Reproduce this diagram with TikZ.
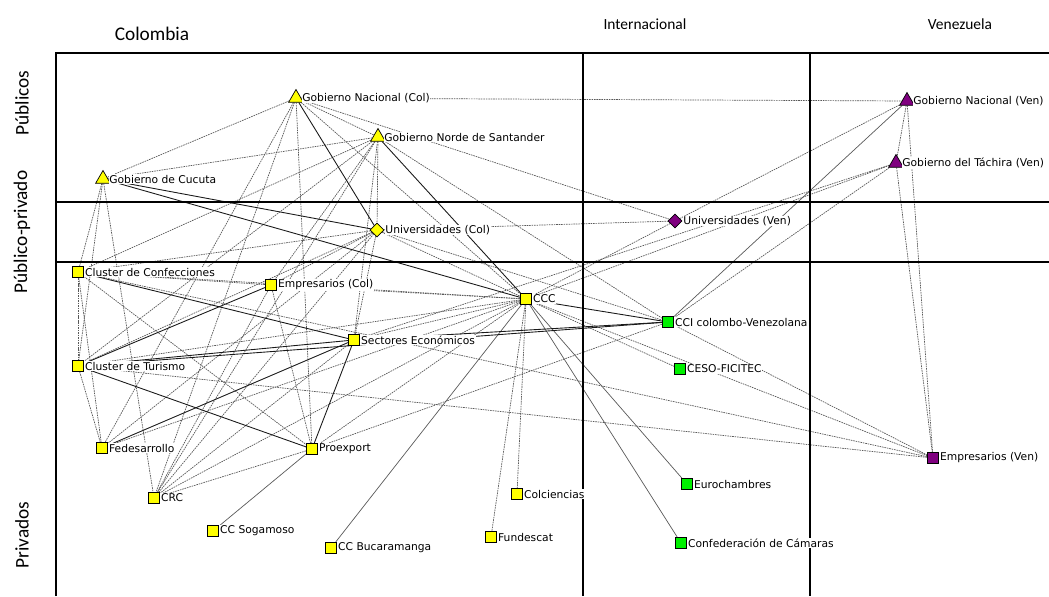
\documentclass[tikz,border=0pt]{standalone}
\usepackage{fontspec}
\setmainfont{DejaVu Sans}
\newfontfamily\hdrfont{Carlito}
\usetikzlibrary{shapes.geometric}
\definecolor{colyellow}{RGB}{255,255,0}
\definecolor{intgreen}{RGB}{0,240,0}
\definecolor{venpurple}{RGB}{128,0,128}
\pgfdeclarelayer{ties}
\pgfsetlayers{ties,main}

\begin{document}
\begin{tikzpicture}[x=0.02cm, y=-0.02cm,
  actor/.style={draw=black, line width=0.4pt, inner sep=0pt},
  sq/.style={actor, rectangle, minimum size=0.23cm},
  tri/.style={actor, regular polygon, regular polygon sides=3, minimum size=0.34cm},
  dia/.style={actor, diamond, minimum size=0.28cm},
  lbl/.style={font=\fontsize{6.1}{7}\selectfont, inner sep=0.4pt, fill=white, label distance=0pt},
  weak/.style={draw=black!65, dash pattern=on 0.9pt off 0.5pt, line width=0.4pt},
  thin/.style={draw=black!65, line width=0.4pt},
  strong/.style={draw=black!90, line width=0.5pt},
  frame/.style={line width=1.1pt},
  hdr/.style={font=\hdrfont\fontsize{8.8}{10}\selectfont},
  bighdr/.style={font=\hdrfont\fontsize{11}{12}\selectfont}]
\useasboundingbox (0,0) rectangle (1049,596);

% frame
\draw[frame] (56,596) -- (56,53) -- (1049,53);
\draw[frame] (56,202) -- (1049,202);
\draw[frame] (56,262) -- (1049,262);
\draw[frame] (583,53) -- (583,596);
\draw[frame] (810,53) -- (810,596);

\node[bighdr] (hcol) at (152,34) {Colombia};
\node[hdr] (hint) at (645,24) {Internacional};
\node[hdr] (hven) at (960,24) {Venezuela};
\node[bighdr, rotate=90] (spub) at (22,103) {Públicos};
\node[bighdr, rotate=90] (smix) at (22,232) {Público-privado};
\node[bighdr, rotate=90] (spriv) at (22,535) {Privados};

% actors
\node[tri, fill=colyellow, label={[lbl]right:Gobierno Nacional (Col)}] (GNC) at (296,98) {};
\node[tri, fill=colyellow, label={[lbl]right:Gobierno Norde de Santander}] (GNS) at (378,137) {};
\node[tri, fill=colyellow, label={[lbl]right:Gobierno de Cucuta}] (GCu) at (103,179) {};
\node[dia, fill=colyellow, label={[lbl]right:Universidades (Col)}] (UC) at (377,230) {};
\node[dia, fill=venpurple, label={[lbl]right:Universidades (Ven)}] (UV) at (675,221) {};
\node[tri, fill=venpurple, label={[lbl]right:Gobierno Nacional (Ven)}] (GNV) at (907,101) {};
\node[tri, fill=venpurple, label={[lbl]right:Gobierno del Táchira (Ven)}] (GTV) at (896,163) {};
\node[sq, fill=colyellow, label={[lbl]right:Cluster de Confecciones}] (CCo) at (78,272) {};
\node[sq, fill=colyellow, label={[lbl]right:Empresarios (Col)}] (EC) at (271,285) {};
\node[sq, fill=colyellow, label={[lbl]right:CCC}] (CCC) at (526,299) {};
\node[sq, fill=intgreen, label={[lbl]right:CCI colombo-Venezolana}] (CCI) at (668,322) {};
\node[sq, fill=colyellow, label={[lbl]right:Sectores Económicos}] (SE) at (354,340) {};
\node[sq, fill=intgreen, label={[lbl]right:CESO-FICITEC}] (CESO) at (680,369) {};
\node[sq, fill=colyellow, label={[lbl]right:Cluster de Turismo}] (CT) at (78,366) {};
\node[sq, fill=colyellow, label={[lbl]right:Fedesarrollo}] (Fe) at (102,448) {};
\node[sq, fill=colyellow, label={[lbl]right:Proexport}] (Pr) at (312,449) {};
\node[sq, fill=venpurple, label={[lbl]right:Empresarios (Ven)}] (EV) at (933,458) {};
\node[sq, fill=intgreen, label={[lbl]right:Eurochambres}] (Eu) at (687,484) {};
\node[sq, fill=colyellow, label={[lbl]right:Colciencias}] (Co) at (517,494) {};
\node[sq, fill=colyellow, label={[lbl]right:CRC}] (CRC) at (154,498) {};
\node[sq, fill=colyellow, label={[lbl]right:CC Sogamoso}] (CS) at (213,531) {};
\node[sq, fill=colyellow, label={[lbl]right:Fundescat}] (Fu) at (491,537) {};
\node[sq, fill=intgreen, label={[lbl]right:Confederación de Cámaras}] (CdC) at (681,543) {};
\node[sq, fill=colyellow, label={[lbl]right:CC Bucaramanga}] (CB) at (331,548) {};

\begin{pgfonlayer}{ties}
% weak ties
\path [weak] (GNC) edge (GNV);
\path [weak] (GNC) edge (GCu);
\path [weak] (GNC) edge (GNS);
\path [weak] (GNC) edge (UV);
\path [weak] (GNC) edge (CCC);
\path [weak] (GNC) edge (Fe);
\path [weak] (GNC) edge (CRC);
\path [weak] (GNC) edge (Pr);
\path [weak] (GNS) edge (GCu);
\path [weak] (GNS) edge (CCo);
\path [weak] (GNS) edge (CT);
\path [weak] (GNS) edge (SE);
\path [weak] (GNS) edge (UC);
\path [weak] (GNS) edge (CCI);
\path [weak] (GNS) edge (CRC);
\path [weak] (GNS) edge (EC);
\path [weak] (GCu) edge (CCo);
\path [weak] (GCu) edge (CT);
\path [weak] (GCu) edge (CRC);
\path [weak] (UC) edge (UV);
\path [weak] (UC) edge (SE);
\path [weak] (UC) edge (CCI);
\path [weak] (UC) edge (EC);
\path [weak] (UC) edge (CCo);
\path [weak] (UC) edge (CT);
\path [weak] (UC) edge (CRC);
\path [weak] (UC) edge (Fe);
\path [weak] (UC) edge (CCC);
\path [weak] (UV) edge (GNV);
\path [weak] (UV) edge (CCC);
\path [weak] (GNV) edge (GTV);
\path [weak] (GNV) edge (EV);
\path [weak] (GTV) edge (EV);
\path [weak] (GTV) edge (SE);
\path [weak] (GTV) edge (CCC);
\path [weak] (GTV) edge (CCI);
\path [weak] (CCC) edge (EC);
\path [weak] (CCC) edge (CCo);
\path [weak] (CCC) edge (SE);
\path [weak] (CCC) edge (CT);
\path [weak] (CCC) edge (Fe);
\path [weak] (CCC) edge (CRC);
\path [weak] (CCC) edge (Pr);
\path [weak] (CCC) edge (CESO);
\path [weak] (CCC) edge (EV);
\path [weak] (CCC) edge (Co);
\path [weak] (CCC) edge (Fu);
\path [weak] (CCI) edge (EV);
\path [weak] (CCI) edge (Pr);
\path [weak] (CCo) edge (EV);
\path [weak] (CT) edge (EV);
\path [weak] (CCo) edge (EC);
\path [weak] (CCo) edge (Pr);
\path [weak] (CCo) edge (Fe);
\path [weak] (CCo) edge (CT);
\path [weak] (EC) edge (Pr);
\path [weak] (EC) edge (CRC);
\path [weak] (Pr) edge (CRC);
\path [weak] (Fe) edge (CT);
\path [weak] (SE) edge (CRC);
% thin solid ties
\path [thin] (GNV) edge (CCI);
\path [thin] (CCC) edge (Eu);
\path [thin] (CCC) edge (CdC);
\path [thin] (CCC) edge (CB);
\path [thin] (Pr) edge (CS);
% strong ties
\path [strong] (GNC) edge (UC);
\path [strong] (GNS) edge (CCC);
\path [strong] (GCu) edge (UC);
\path [strong] (GCu) edge (CCC);
\path [strong] (CCC) edge (CCI);
\path [strong] (CCo) edge (SE);
\path [strong] (CT) edge (EC);
\path [strong] (CT) edge (SE);
\path [strong] (CT) edge (CCI);
\path [strong] (CT) edge (Pr);
\path [strong] (SE) edge (Pr);
\path [strong] (SE) edge (Fe);
\path [strong] (SE) edge (CCI);
\end{pgfonlayer}
\end{tikzpicture}
\end{document}
